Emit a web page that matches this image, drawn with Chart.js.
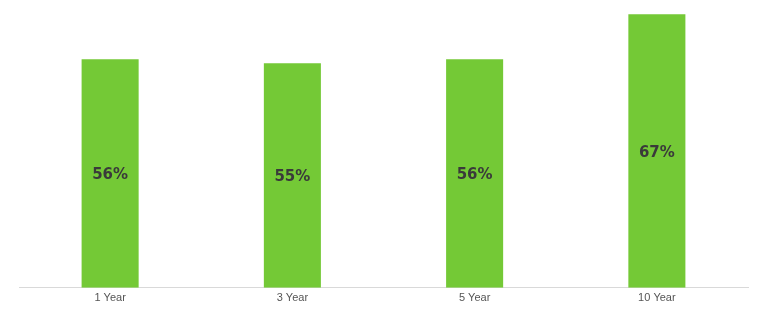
<!DOCTYPE html>
<html>
<head>
<meta charset="utf-8">
<script src="https://cdn.jsdelivr.net/npm/chart.js@4.4.0/dist/chart.umd.min.js"></script>
<style>
  html, body { margin: 0; padding: 0; background: #fff; }
  #wrap { width: 768px; height: 327px; }
</style>
</head>
<body>
<div id="wrap"><canvas id="chart"></canvas></div>
<script>
const periods = ["1 Year", "3 Year", "5 Year", "10 Year"];
const shares = [56, 55, 56, 67];

// write the percentage in the middle of each bar
const barLabels = {
  id: "barLabels",
  afterDatasetsDraw(chart) {
    const ctx = chart.ctx;
    const meta = chart.getDatasetMeta(0);
    ctx.save();
    ctx.font = "bold 15px 'DejaVu Sans', Arial, sans-serif";
    ctx.fillStyle = "#3a3a3a";
    ctx.textAlign = "center";
    ctx.textBaseline = "middle";
    meta.data.forEach((bar, i) => {
      const mid = (bar.y + bar.base) / 2 + 2;
      ctx.fillText(shares[i] + "%", bar.x, mid);
    });
    ctx.restore();
  }
};

const ctx = document.getElementById("chart").getContext("2d");
new Chart(ctx, {
  type: "bar",
  data: {
    labels: periods,
    datasets: [{
      data: shares,
      backgroundColor: "#74c936",
      barPercentage: 0.313,
      categoryPercentage: 1
    }]
  },
  options: {
    responsive: true,
    maintainAspectRatio: false,
    animation: false,
    layout: { padding: { left: 19, right: 20, top: 2, bottom: 18 } },
    plugins: { legend: { display: false }, tooltip: { enabled: false } },
    scales: {
      x: {
        grid: { display: false, drawTicks: false },
        border: { color: "#d9d9d9", width: 1 },
        ticks: {
          color: "#555",
          font: { family: "Liberation Sans, Arial, sans-serif", size: 11 },
          padding: 4
        }
      },
      y: {
        display: false,
        min: 0,
        max: 70
      }
    }
  },
  plugins: [barLabels]
});
</script>
</body>
</html>
